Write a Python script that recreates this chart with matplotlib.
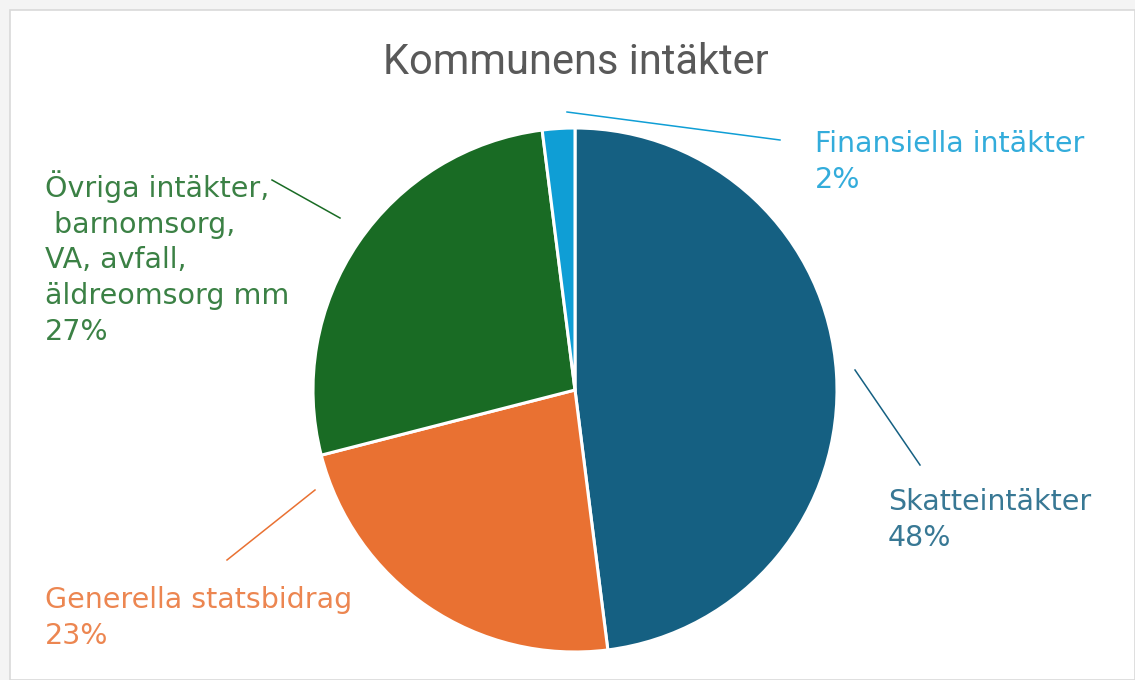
import matplotlib
matplotlib.use("Agg")
import matplotlib.pyplot as plt
from matplotlib.patches import Rectangle

# Data
categories = ["Skatteintäkter", "Generella statsbidrag",
              "Övriga intäkter,\n barnomsorg,\nVA, avfall,\näldreomsorg mm",
              "Finansiella intäkter"]
values = [48, 23, 27, 2]
colors = ["#156082", "#E97132", "#196B24", "#0F9ED5"]
title = "Kommunens intäkter"

W, H = 1135, 680
fig = plt.figure(figsize=(W / 100, H / 100), dpi=100, facecolor="#f4f4f4")
ax = fig.add_axes([0, 0, 1, 1])

# chart area background
ax.add_patch(Rectangle((10, 0), W - 10, H - 10, facecolor="white",
                       edgecolor="#d9d9d9", linewidth=1.2, zorder=0))

cx, cy, r = 575, H - 390, 262
ax.pie(values, colors=colors, startangle=90, counterclock=False,
       center=(cx, cy), radius=r, frame=True,
       wedgeprops=dict(edgecolor="white", linewidth=2.2))
ax.set_xlim(0, W)
ax.set_ylim(0, H)
ax.set_aspect("equal")
ax.axis("off")

ax.text(576, H - 62, title, ha="center", va="center", fontsize=30,
        family="Roboto", color="#595959")

fs = 20.5
lbl_font = "DejaVu Sans"
# label positions (left x, center y in pixel-from-top), leader lines
labels = [
    (888, 520, (855, 370), (920, 465)),
    (45, 618, (315, 490), (227, 560)),
    (45, 258, (340, 218), (272, 180)),
    (815, 162, (567, 112), (780, 140)),
]
for (cat, v, col, (lx, ly, p0, p1)) in zip(categories, values, colors, labels):
    ax.text(lx, H - ly, f"{cat}\n{v}%", ha="left", va="center", fontsize=fs,
            family=lbl_font, color=col, linespacing=1.35, alpha=0.85)
    ax.plot([p0[0], p1[0]], [H - p0[1], H - p1[1]], color=col, lw=1.1)

fig.savefig("out.png", dpi=100, facecolor=fig.get_facecolor())
